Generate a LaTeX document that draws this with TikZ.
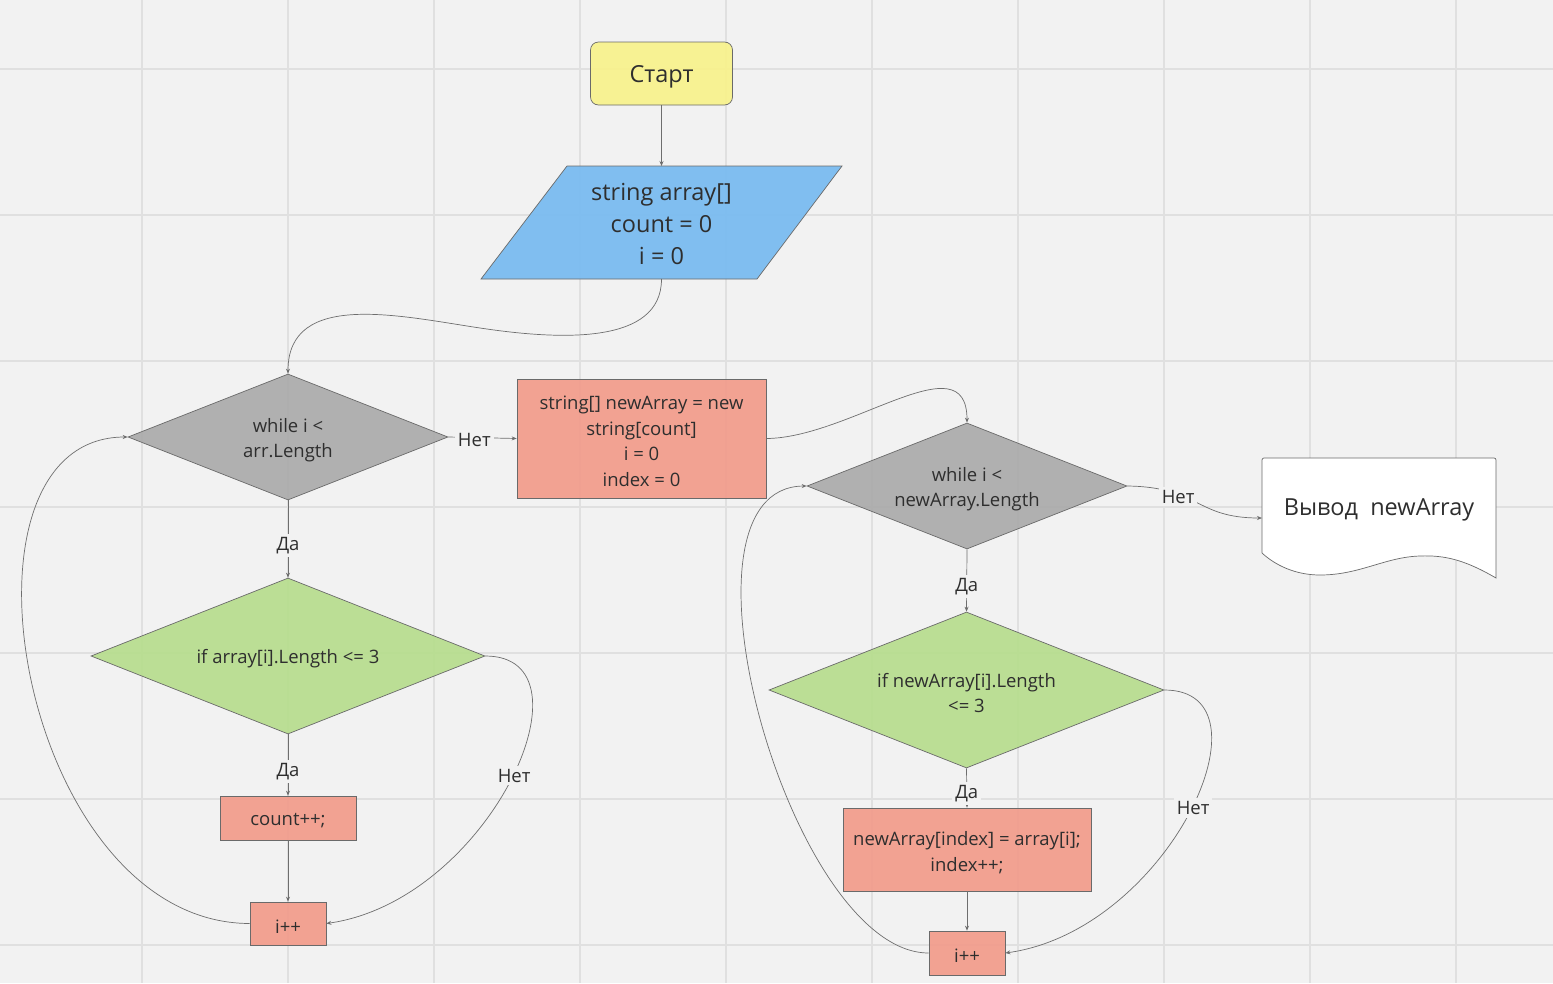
\documentclass[tikz,border=0pt]{standalone}
\usepackage{fontspec}
\setmainfont{Open Sans}
\usetikzlibrary{shapes.geometric,arrows.meta}

\definecolor{bgc}{HTML}{F2F2F2}
\definecolor{gridc}{HTML}{E0E0E0}
\definecolor{edgec}{HTML}{6A6A6A}
\definecolor{linec}{HTML}{6E6E6E}
\definecolor{txtc}{HTML}{2E2E2E}
\definecolor{startc}{HTML}{F8F28C}
\definecolor{inputc}{HTML}{7ABCF0}
\definecolor{condc}{HTML}{ABABAB}
\definecolor{procc}{HTML}{F29C8B}
\definecolor{testc}{HTML}{B7DD8E}

\tikzset{
  captext/.style={text=txtc, align=center, inner sep=0pt, yshift=-3pt,
    font=\fontsize{18.5}{25.5}\selectfont},
  bigcap/.style={captext, font=\fontsize{23.5}{32}\selectfont},
  caption/.style={label={[captext]center:{#1}}},
  bigcaption/.style={label={[bigcap]center:{#1}}},
  base/.style={draw=edgec, line width=0.7pt, inner sep=0pt, fill opacity=0.93},
  startbox/.style={base, rectangle, rounded corners=8pt, fill=startc},
  procbox/.style={base, rectangle, fill=procc},
  loopcond/.style={base, diamond, aspect=2.54, fill=condc},
  testcond/.style={base, diamond, aspect=2.53, fill=testc},
  ghost/.style={rectangle, inner sep=0pt, outer sep=0pt},
  conn/.style={draw=linec, line width=0.7pt, -{Stealth[length=5pt,width=4pt]}},
  lbl/.style={fill=bgc, inner sep=3pt, text=txtc, yshift=-2.5pt,
    font=\fontsize{18.5}{22}\selectfont},
}

\begin{document}
\begin{tikzpicture}[x=1pt,y=-1pt]
\fill[bgc] (0,0) rectangle (1553,983);
\useasboundingbox (0,0) rectangle (1553,983);

% background grid
\foreach \gx in {142,288,434,580,726,872,1018,1164,1310,1456}
  \draw[gridc, line width=1.4pt] (\gx,0) -- (\gx,983);
\foreach \gy in {69,215,361,507,653,799,945}
  \draw[gridc, line width=1.4pt] (0,\gy) -- (1553,\gy);

% start and input
\node[startbox, minimum width=142pt, minimum height=63pt, bigcaption={Старт}] (start) at (661.5,73.5) {};
\node[ghost, minimum width=361pt, minimum height=113pt] (par) at (661.5,222.5) {};
\filldraw[draw=edgec, fill=inputc, fill opacity=0.95, line width=0.7pt]
  (567,166) -- (842,166) -- (757,279) -- (481,279) -- cycle;
\node[bigcap, yshift=3pt] (partext) at (661.5,224) {string array[]\\count = 0\\i = 0};

% first loop: counting short strings
\node[loopcond, minimum width=320pt, minimum height=126pt, caption={while i <\\arr.Length}] (d1) at (288,437) {};
\node[testcond, minimum width=394pt, minimum height=156pt, caption={if array[i].Length <= 3}] (d3) at (288,656) {};
\node[procbox, minimum width=136pt, minimum height=44pt, caption={count++;}] (c1) at (288,818) {};
\node[procbox, minimum width=76pt, minimum height=43pt, caption={i++}] (inc1) at (288,923.5) {};

% new array initialisation
\node[procbox, minimum width=249pt, minimum height=119pt,
  caption={string[] newArray = new\\string[count]\\i = 0\\index = 0}] (r1) at (641.5,438.5) {};

% second loop: copying short strings
\node[loopcond, minimum width=320pt, minimum height=126pt, caption={while i <\\newArray.Length}] (d2) at (967,486) {};
\node[testcond, minimum width=395pt, minimum height=156pt, caption={if newArray[i].Length\\<= 3}] (d4) at (966.5,690) {};
\node[procbox, minimum width=248pt, minimum height=83pt, caption={newArray[index] = array[i];\\index++;}] (r2) at (967,849.5) {};
\node[procbox, minimum width=76pt, minimum height=44pt, caption={i++}] (inc2) at (967,953) {};

% output document
\node[ghost, minimum width=234pt, minimum height=120pt] (doc) at (1379,518) {};
\filldraw[draw=edgec, fill=white, line width=0.7pt]
  (1262,553) [rounded corners=2pt] -- (1262,458) -- (1496,458) [sharp corners] -- (1496,578)
  .. controls (1465,560) and (1445,555) .. (1420,556)
  .. controls (1385,557) and (1360,575) .. (1320,575)
  .. controls (1295,575) and (1275,565) .. (1262,553) -- cycle;
\node[bigcap, yshift=1pt] (doctext) at (1379,508) {Вывод\ \ newArray};

% connectors
\draw[conn] (start.south) -- (par.north);
\draw[conn] (par.south) .. controls (661.5,345) and (560,340) .. (480,328)
  .. controls (400,316) and (288,290) .. (d1.north);
\draw[conn] (d1.east) -- node[lbl, pos=0.38] {Нет} (r1.west);
\draw[conn] (d1.south) -- node[lbl, pos=0.55] {Да} (d3.north);
\draw[conn] (d3.south) -- node[lbl, pos=0.56] {Да} (c1.north);
\draw[conn] (c1.south) -- (inc1.north);
\draw[conn] (d3.east) .. controls (600,656) and (490,900) .. node[lbl, pos=0.48] {Нет} (inc1.east);
\draw[conn] (inc1.west) .. controls (20,923) and (-62,437) .. (d1.west);

\draw[conn] (r1.east) .. controls (850,438) and (967,340) .. (d2.north);
\draw[conn] (d2.east) .. controls (1200,487) and (1195,518) .. node[lbl, pos=0.32] {Нет} (doc.west);
\draw[conn] (d2.south) -- node[lbl, pos=0.56] {Да} (d4.north);
\draw[conn] (d4.south) -- node[lbl, pos=0.58] {Да} (r2.north);
\draw[conn] (r2.south) -- (inc2.north);
\draw[conn] (d4.east) .. controls (1279,690) and (1169,930) .. node[lbl, pos=0.48] {Нет} (inc2.east);
\draw[conn] (inc2.west) .. controls (790,953) and (660,487) .. (d2.west);
\end{tikzpicture}
\end{document}
